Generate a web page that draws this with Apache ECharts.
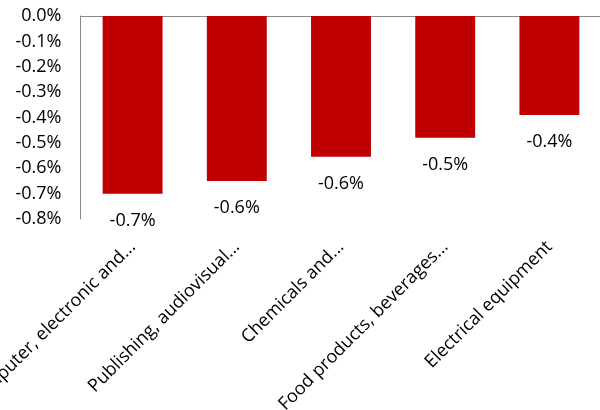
<!DOCTYPE html>
<html>
<head>
<meta charset="utf-8">
<script src="https://cdn.jsdelivr.net/npm/echarts@6/dist/echarts.min.js"></script>
<style>
html,body{margin:0;padding:0;background:#fff;}
#chart{width:600px;height:410px;}
</style>
</head>
<body>
<div id="chart"></div>
<script>
const categories = [
  "Computer, electronic and...",
  "Publishing, audiovisual...",
  "Chemicals and...",
  "Food products, beverages...",
  "Electrical equipment"
];
const values = [-0.70, -0.65, -0.555, -0.48, -0.39];
const valueLabels = ["-0.7%", "-0.6%", "-0.6%", "-0.5%", "-0.4%"];
const yTicks = [0, -0.1, -0.2, -0.3, -0.4, -0.5, -0.6, -0.7, -0.8];

const FONT = "Open Sans";
const chart = echarts.init(document.getElementById('chart'), null, {renderer: 'canvas'});
chart.setOption({
  animation: false,
  backgroundColor: '#ffffff',
  grid: {left: 80.5, right: -1.5, top: 16, bottom: 191, containLabel: false, outerBoundsMode: 'none'},
  xAxis: [{
    type: 'category',
    data: categories,
    position: 'bottom',
    axisLine: {show: false, onZero: false},
    axisTick: {show: false},
    axisLabel: {
      interval: 0,
      rotate: 45,
      align: 'right',
      verticalAlign: 'middle',
      lineHeight: 24,
      padding: [10, 0, 0, 0],
      margin: 25,
      color: '#000000',
      fontFamily: FONT,
      fontSize: 18,
      hideOverlap: false
    }
  }, {
    type: 'category',
    data: categories,
    position: 'top',
    axisLine: {show: true, onZero: false, lineStyle: {color: '#898989', width: 1}},
    axisTick: {show: false},
    axisLabel: {show: false}
  }],
  yAxis: {
    type: 'value',
    min: -0.8,
    max: 0,
    interval: 0.1,
    axisLine: {show: true, lineStyle: {color: '#898989', width: 1}},
    axisTick: {show: false},
    splitLine: {show: false},
    axisLabel: {
      margin: 19,
      color: '#000000',
      fontFamily: FONT,
      fontSize: 18,
      formatter: function (v) { return v.toFixed(1) + '%'; }
    }
  },
  series: [{
    type: 'bar',
    data: values,
    barWidth: '57.5%',
    itemStyle: {color: '#C00000'},
    label: {
      show: true,
      position: 'bottom',
      distance: 18,
      color: '#000000',
      fontFamily: FONT,
      fontSize: 18,
      formatter: function (p) { return valueLabels[p.dataIndex]; }
    }
  }]
});
</script>
</body>
</html>
